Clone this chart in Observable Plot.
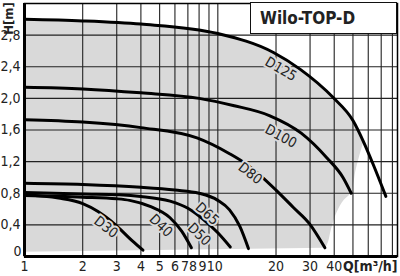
<!DOCTYPE html>
<html><head><meta charset="utf-8">
<script src="https://cdn.jsdelivr.net/npm/d3@7"></script>
<script src="https://cdn.jsdelivr.net/npm/@observablehq/plot@0.6"></script>
<style>
html,body{margin:0;padding:0;background:#fff;}
#chart{position:relative;width:400px;height:276px;}
#title{position:absolute;left:250px;top:2px;width:145px;height:30px;background:#fff;border:1.5px solid #111;
  font:bold 17px 'DejaVu Sans Condensed','DejaVu Sans',sans-serif;color:#222;
  line-height:30px;text-indent:9px;}
</style></head>
<body><div id="chart"><div id="title"></div></div>
<script>
// ---- data ----
const title = "Wilo-TOP-D";
const yLabel = "H[m]";
const xLabel = "Q[m³/h]";
const xTicks = [1,2,3,4,5,6,7,8,9,10,20,30,40];
const xGrid = [2,3,4,5,6,7,8,9,10,20,30,40,50,60,70,80];
const yTicks = [0,0.4,0.8,1.2,1.6,2.0,2.4,2.8];
const yTickLabels = ["0","0,4","0,8","1,2","1,6","2,0","2,4","2,8"];

const d125Q = [1,2,4,10,19.4,26.6,39.5,50,56.5,63.5,74];
const d125H = [3.00,2.98,2.94,2.82,2.58,2.37,2.01,1.72,1.46,1.17,0.76];
const d100Q = [1,2,4,8,12,18.6,27,36.6,44.4,49];
const d100H = [2.14,2.12,2.07,2.0,1.91,1.78,1.56,1.25,1.0,0.80];
const d80Q = [1,2,4,7.8,11.5,14,16.5,20,24.6,29.9,35.8];
const d80H = [1.73,1.70,1.63,1.50,1.30,1.17,1.03,0.84,0.62,0.41,0.11];
const d65Q = [1,2,4,6,8,10,11.5,13,14.4];
const d65H = [0.925,0.91,0.875,0.84,0.80,0.71,0.59,0.38,0.10];
const d50Q = [1,2,3.1,4,5.66,7,8.4,10,11.6];
const d50H = [0.81,0.79,0.78,0.76,0.70,0.61,0.47,0.30,0.12];
const d40Q = [1,2,3,3.5,4.5,5.66,6.5,7.3];
const d40H = [0.77,0.75,0.73,0.71,0.63,0.49,0.32,0.11];
const d30Q = [1,1.5,2,2.4,2.8,3.2,3.6,4.1];
const d30H = [0.78,0.74,0.67,0.57,0.45,0.32,0.2,0.08];

const seriesNames = ["D125","D100","D80","D65","D50","D40","D30"];
const seriesQ = [d125Q,d100Q,d80Q,d65Q,d50Q,d40Q,d30Q];
const seriesH = [d125H,d100H,d80H,d65H,d50H,d40H,d30H];

// curve label anchors (data units)
const labelQ = [21.2,21.2,14.7,8.8,8.0,5.07,2.64];
const labelH = [2.37,1.52,1.05,0.54,0.28,0.39,0.37];

// boundary of the gray operating area (right side) and its lower edge
const areaRightQ = [57,52,49,45.1,41.5,38.6,36.8,36];
const areaRightH = [1.45,1.1,0.80,0.71,0.56,0.33,0.14,0.10];
const areaBottomQ = [1,36,85];
const areaBottomH = [0.055,0.105,0.11];

// ---- styles (not data) ----
const labelAngle = [30,28,38,42,44,44,38];
const xTickNudge = {7:-3,8:-6,9:-6.5,10:-3};

// ---- build ----
const curves = seriesNames.flatMap((name,i)=>seriesQ[i].map((q,j)=>({name,Q:q,H:seriesH[i][j]})));
const labels = seriesNames.map((name,i)=>({name,Q:labelQ[i],H:labelH[i],a:labelAngle[i]}));
const top125 = d125Q.map((q,i)=>({Q:q,H:d125H[i]}));
const rightEdge = areaRightQ.map((q,i)=>({Q:q,H:areaRightH[i]})).reverse();
const bottomEdge = areaBottomQ.map((q,i)=>({Q:q,H:areaBottomH[i]}));
const yTickRows = yTicks.map((v,i)=>({v,t:yTickLabels[i]}));
const xMax = 85;

document.getElementById("title").textContent = title;

const fontFam = "'DejaVu Sans Condensed','DejaVu Sans',sans-serif";
const gray = "#d9d9d9";
const ink = "#222";
const xTickMarks = xTicks.map(t=>Plot.text([t],{x:d=>d,frameAnchor:"bottom",lineAnchor:"middle",dy:10,dx:xTickNudge[t]||0,
  text:d=>String(d),fontSize:14,fill:ink}));

const plot = Plot.plot({
  width: 400, height: 276,
  marginLeft: 24, marginRight: 3, marginTop: 3, marginBottom: 20,
  style:{fontFamily:fontFam, background:"transparent", overflow:"visible"},
  x:{type:"log", domain:[1,xMax], axis:null},
  y:{domain:[0,3.2], axis:null},
  marks:[
    Plot.areaY(top125,{x:"Q",y1:0,y2:"H",fill:gray,curve:"monotone-x"}),
    Plot.areaX(rightEdge,{y:"H",x1:"Q",x2:xMax,fill:"#fff",curve:"monotone-y"}),
    Plot.areaY(bottomEdge,{x:"Q",y1:0,y2:"H",fill:"#fff"}),
    Plot.ruleY(yTicks.slice(1),{stroke:ink,strokeWidth:1.1}),
    Plot.ruleX(xGrid,{stroke:ink,strokeWidth:1.1}),
    Plot.line(curves,{x:"Q",y:"H",z:"name",stroke:"#000",strokeWidth:3,curve:"monotone-x"}),
    Plot.text(labels,{x:"Q",y:"H",text:"name",rotate:"a",fontSize:14,fill:ink,stroke:gray,strokeWidth:4,fontFamily:fontFam}),
    Plot.frame({stroke:"#000",strokeWidth:1.5}),
    Plot.ruleX([1],{stroke:"#000",strokeWidth:3}),
    Plot.ruleY([0],{stroke:"#000",strokeWidth:3}),
    ...xTickMarks,
    Plot.text(yTickRows.slice(1),{y:"v",frameAnchor:"left",textAnchor:"end",lineAnchor:"middle",dx:-4,text:"t",fontSize:14,fill:ink}),
    Plot.text(yTickRows.slice(0,1),{y:"v",frameAnchor:"left",textAnchor:"end",lineAnchor:"middle",dx:-3,dy:-5,text:"t",fontSize:14,fill:ink}),
    Plot.text([yLabel],{frameAnchor:"top-left",rotate:-90,textAnchor:"middle",lineAnchor:"middle",dx:-16,dy:15,text:d=>d,fontSize:13,fontWeight:"bold",fill:ink}),
    Plot.text([xLabel],{frameAnchor:"bottom-right",textAnchor:"end",lineAnchor:"middle",dy:10,text:d=>d,fontSize:14,fontWeight:"bold",fill:ink})
  ]
});
document.getElementById("chart").insertBefore(plot, document.getElementById("title"));
</script></body></html>
